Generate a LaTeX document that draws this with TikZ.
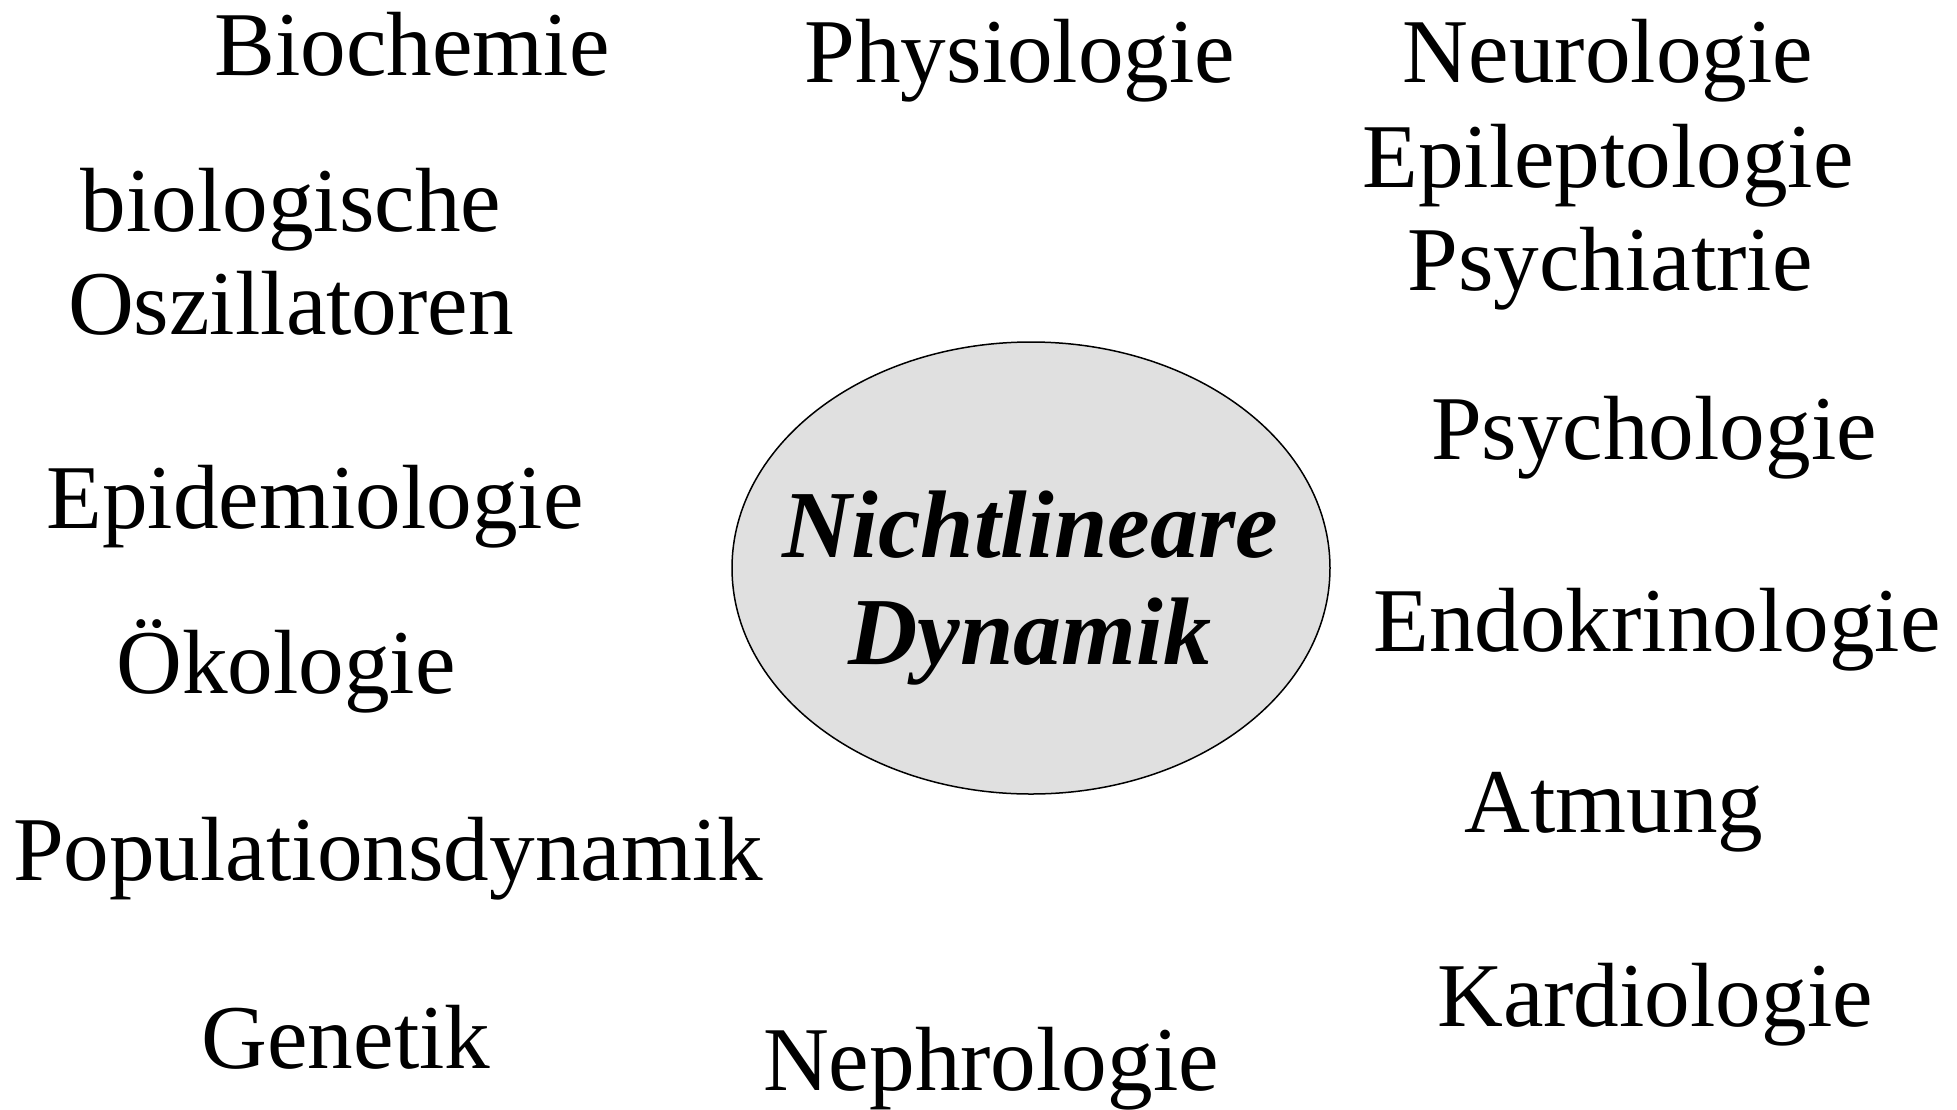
\documentclass[tikz,border=0pt]{standalone}
\usepackage{fontspec}
\setmainfont{Liberation Serif}
\usetikzlibrary{shapes.geometric}
\begin{document}
\begin{tikzpicture}[x=1pt,y=-1pt,
  lbl/.style={anchor=base,inner sep=0pt,font=\fontsize{91.2}{104}\selectfont},
  core/.style={anchor=base,inner sep=0pt,font=\fontsize{96}{104}\selectfont\bfseries\itshape}]
\useasboundingbox (0,0) rectangle (1957,1109);
\node[draw=black,line width=1.5pt,fill={rgb,255:red,224;green,224;blue,224},ellipse,minimum width=598,minimum height=452,inner sep=0pt] (ell) at (1031,568) {};
\node[core] (nl) at (1030,557) {Nichtlineare};
\node[core] (dy) at (1030,664) {Dynamik};
\node[lbl] (bio) at (412,75) {Biochemie};
\node[lbl] (phy) at (1020,82) {Physiologie};
\node[lbl] (neu) at (1608,82) {Neurologie};
\node[lbl] (epi) at (1608,187) {Epileptologie};
\node[lbl] (psa) at (1610,290) {Psychiatrie};
\node[lbl] (bol) at (291,231) {biologische};
\node[lbl] (osz) at (291,334) {Oszillatoren};
\node[lbl] (psl) at (1654,459) {Psychologie};
\node[lbl] (epd) at (315,528) {Epidemiologie};
\node[lbl] (end) at (1657,651) {Endokrinologie};
\node[lbl] (oek) at (286,693) {Ökologie};
\node[lbl] (atm) at (1614,832) {Atmung};
\node[lbl] (pop) at (388,880) {Populationsdynamik};
\node[lbl] (kar) at (1655,1026) {Kardiologie};
\node[lbl] (gen) at (346,1068) {Genetik};
\node[lbl] (nep) at (991,1090) {Nephrologie};
\end{tikzpicture}
\end{document}
